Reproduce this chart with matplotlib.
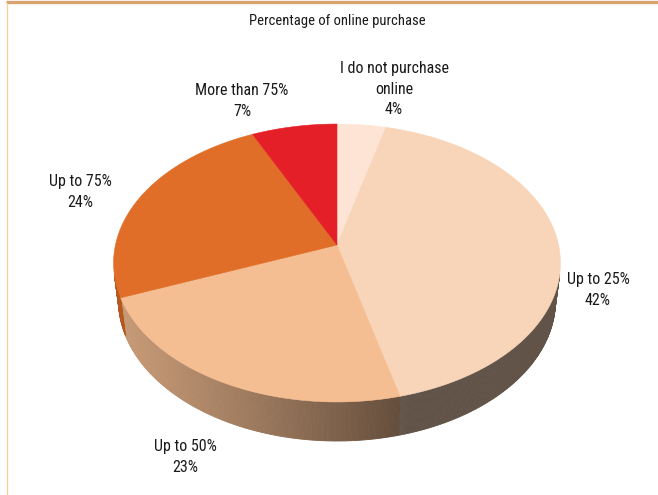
import numpy as np
import matplotlib
matplotlib.use("Agg")
import matplotlib.pyplot as plt
from matplotlib import font_manager
from matplotlib.patches import Polygon

# ---- data -------------------------------------------------------------
categories = ["I do not purchase\nonline", "Up to 25%", "Up to 50%",
              "Up to 75%", "More than 75%"]
shares = [4, 42, 23, 24, 7]
top_colors = ["#fde4d4", "#f8d5b8", "#f5be92", "#e06e28", "#e41f27"]
title = "Percentage of online purchase"

# label anchor points (figure pixels, y downward)
label_pos = [(394, 89), (598, 290), (185, 457), (80, 192), (242, 101)]

# ---- fonts --------------------------------------------------------------
available = {f.name for f in font_manager.fontManager.ttflist}
font = next((n for n in ["Roboto Condensed", "Liberation Sans Narrow",
                         "Open Sans Condensed", "Roboto"] if n in available),
            "DejaVu Sans")

# ---- perspective camera for a 3-D disk ---------------------------------
CX, CY = 337.0, 245.0          # projected disk centre
F = 1347.0                     # focal scale
DIST = 6.08                    # camera distance (disk radius = 1)
TILT = np.arcsin(0.6167)
S, C = np.sin(TILT), np.cos(TILT)
THICK = 0.22


def project(theta_deg, z=0.0):
    t = np.radians(theta_deg)
    x, y = np.sin(t), np.cos(t)
    d = DIST + y * C - z * S
    return CX + F * x / d, CY - F * (y * S + z * C) / d


def shade(rgb, theta_deg):
    t = np.radians(theta_deg)
    n = np.array([np.sin(t), np.cos(t)])
    light = np.array([-1.0, -0.3])
    light /= np.linalg.norm(light)
    k = 0.39 + 0.42 * max(0.0, float(n @ light))
    return tuple(np.clip(np.array(rgb) * k, 0, 1))


fig = plt.figure(figsize=(6.58, 4.95), dpi=100)
ax = fig.add_axes([0, 0, 1, 1])
ax.set_xlim(0, 658)
ax.set_ylim(495, 0)
ax.axis("off")

bounds = np.concatenate([[0], np.cumsum(shares)]) / sum(shares) * 360.0
vis_lo = np.degrees(np.arccos(-1.0 / (DIST * C)))
vis_hi = 360.0 - vis_lo

# side walls (front-facing part only)
for i, col in enumerate(top_colors):
    a0, a1 = max(bounds[i], vis_lo), min(bounds[i + 1], vis_hi)
    if a1 <= a0:
        continue
    rgb = matplotlib.colors.to_rgb(col)
    steps = np.linspace(a0, a1, max(2, int((a1 - a0) * 2)))
    for t0, t1 in zip(steps[:-1], steps[1:]):
        p = [project(t0, 0), project(t1, 0), project(t1, -THICK), project(t0, -THICK)]
        fc = shade(rgb, 0.5 * (t0 + t1))
        ax.add_patch(Polygon(p, closed=True, facecolor=fc, edgecolor=fc,
                             linewidth=0.6, zorder=1))

# top face wedges
for i, col in enumerate(top_colors):
    arc = np.linspace(bounds[i], bounds[i + 1], 120)
    pts = [(CX, CY)] + [project(a) for a in arc]
    ax.add_patch(Polygon(pts, closed=True, facecolor=col, edgecolor=col,
                         linewidth=0.4, zorder=2))

# labels
for name, val, (lx, ly) in zip(categories, shares, label_pos):
    ax.text(lx, ly, f"{name}\n{val}%", ha="center", va="center",
            fontsize=11.5, family=font, color="#1a1a1a",
            linespacing=1.45, zorder=3)

ax.text(337, 21, title, ha="center", va="center", fontsize=10.5,
        family=font, color="#1a1a1a")

# frame accents
ax.plot([6, 658], [1.5, 1.5], color="#d9a36f", linewidth=2.4,
        solid_capstyle="butt", zorder=4)
ax.plot([7, 7], [3, 495], color="#fbcf9a", linewidth=0.9, zorder=4)

fig.savefig("out.png", dpi=100, facecolor="white")
